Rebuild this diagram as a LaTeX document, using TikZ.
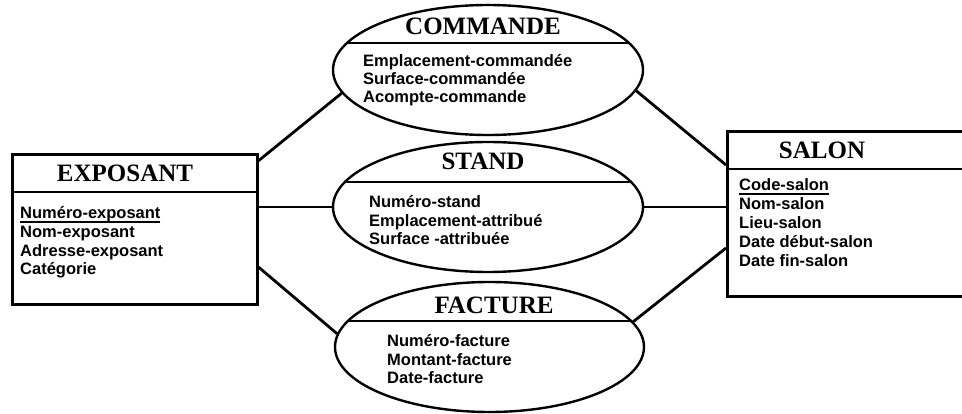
\documentclass[tikz,border=0pt]{standalone}
\usepackage{fontspec}
\setmainfont{Liberation Sans}
\newfontfamily\titlefont{Liberation Serif}
\usetikzlibrary{shapes.geometric,calc}
\newcommand{\ulx}[1]{\setbox0=\hbox{#1}\rlap{\vrule width\wd0 height -2.2pt depth 3.6pt}\box0}
\begin{document}
\begin{tikzpicture}[x=1pt,y=-1pt,
 ent/.style={draw,line width=2.6pt,rectangle,inner sep=0,anchor=north west},
 assoc/.style={draw,line width=2.4pt,ellipse,inner sep=0,minimum height=130pt},
 link/.style={line width=2.8pt},
 sepline/.style={line width=2.6pt},
 ttl/.style={anchor=base,inner sep=0,font=\titlefont\bfseries\fontsize{25}{28}\selectfont},
 att/.style={anchor=base west,inner sep=0,font=\bfseries\fontsize{16.5}{19}\selectfont}]
\useasboundingbox (0,0) rectangle (962,414);

% entities
\node[ent,minimum width=245pt,minimum height=150pt] (exposant) at (11,153) {};
\draw[sepline] ($(exposant.north west)+(0,39)$) -- ($(exposant.north east)+(0,39)$);
\node[ent,minimum width=264pt,minimum height=165pt] (salon) at (726,130) {};
\draw[sepline] ($(salon.north west)+(0,39)$) -- ($(salon.north east)+(0,39)$);

% associations
\node[assoc,minimum width=310pt] (commande) at (488,70) {};
\node[assoc,minimum width=310pt] (stand) at (488,207) {};
\node[assoc,minimum width=309pt] (facture) at (489.5,347) {};
\begin{scope}
\clip (488,70) ellipse [x radius=155pt, y radius=65pt];
\draw[sepline] ($(commande.west)+(0,-27)$) -- ($(commande.east)+(0,-27)$);
\end{scope}
\begin{scope}
\clip (488,207) ellipse [x radius=155pt, y radius=65pt];
\draw[sepline] ($(stand.west)+(0,-25)$) -- ($(stand.east)+(0,-25)$);
\end{scope}
\begin{scope}
\clip (489.5,347) ellipse [x radius=154.5pt, y radius=65pt];
\draw[sepline] ($(facture.west)+(0,-26)$) -- ($(facture.east)+(0,-26)$);
\end{scope}

% connectors
\draw[link] (exposant.29) -- (commande.189);
\draw[link] (stand.west -| exposant.east) -- (stand.west);
\draw[link] (exposant.-17) -- (facture.175);
\draw[link] (commande.-8) -- ($(salon.north west)+(0,35)$);
\draw[link] (stand.east) -- (stand.east -| salon.west);
\draw[link] (facture.10) -- ($(salon.north west)+(0,118)$);

% texts
\node[ttl] (tExp) at (125,182) {EXPOSANT};
\node[att] (e1) at (20,219) {\ulx{Numéro-exposant}};
\node[att] (e2) at (20,238) {Nom-exposant};
\node[att] (e3) at (20,257) {Adresse-exposant};
\node[att] (e4) at (20,275) {Catégorie};

\node[ttl] (tCom) at (483,35) {COMMANDE};
\node[att] (c1) at (363,67) {Emplacement-commandée};
\node[att] (c2) at (363,85) {Surface-commandée};
\node[att] (c3) at (363,103) {Acompte-commande};

\node[ttl] (tSta) at (483,170) {STAND};
\node[att] (s1) at (369,208) {Numéro-stand};
\node[att] (s2) at (369,227) {Emplacement-attribué};
\node[att] (s3) at (369,245) {Surface -attribuée};

\node[ttl] (tFac) at (494,313) {FACTURE};
\node[att] (f1) at (387,347) {Numéro-facture};
\node[att] (f2) at (387,365) {Montant-facture};
\node[att] (f3) at (387,383) {Date-facture};

\node[ttl] (tSal) at (822,159) {SALON};
\node[att] (a1) at (739,191) {\ulx{Code-salon}};
\node[att] (a2) at (739,210) {Nom-salon};
\node[att] (a3) at (739,229) {Lieu-salon};
\node[att] (a4) at (739,248) {Date début-salon};
\node[att] (a5) at (739,267) {Date fin-salon};
\end{tikzpicture}
\end{document}
